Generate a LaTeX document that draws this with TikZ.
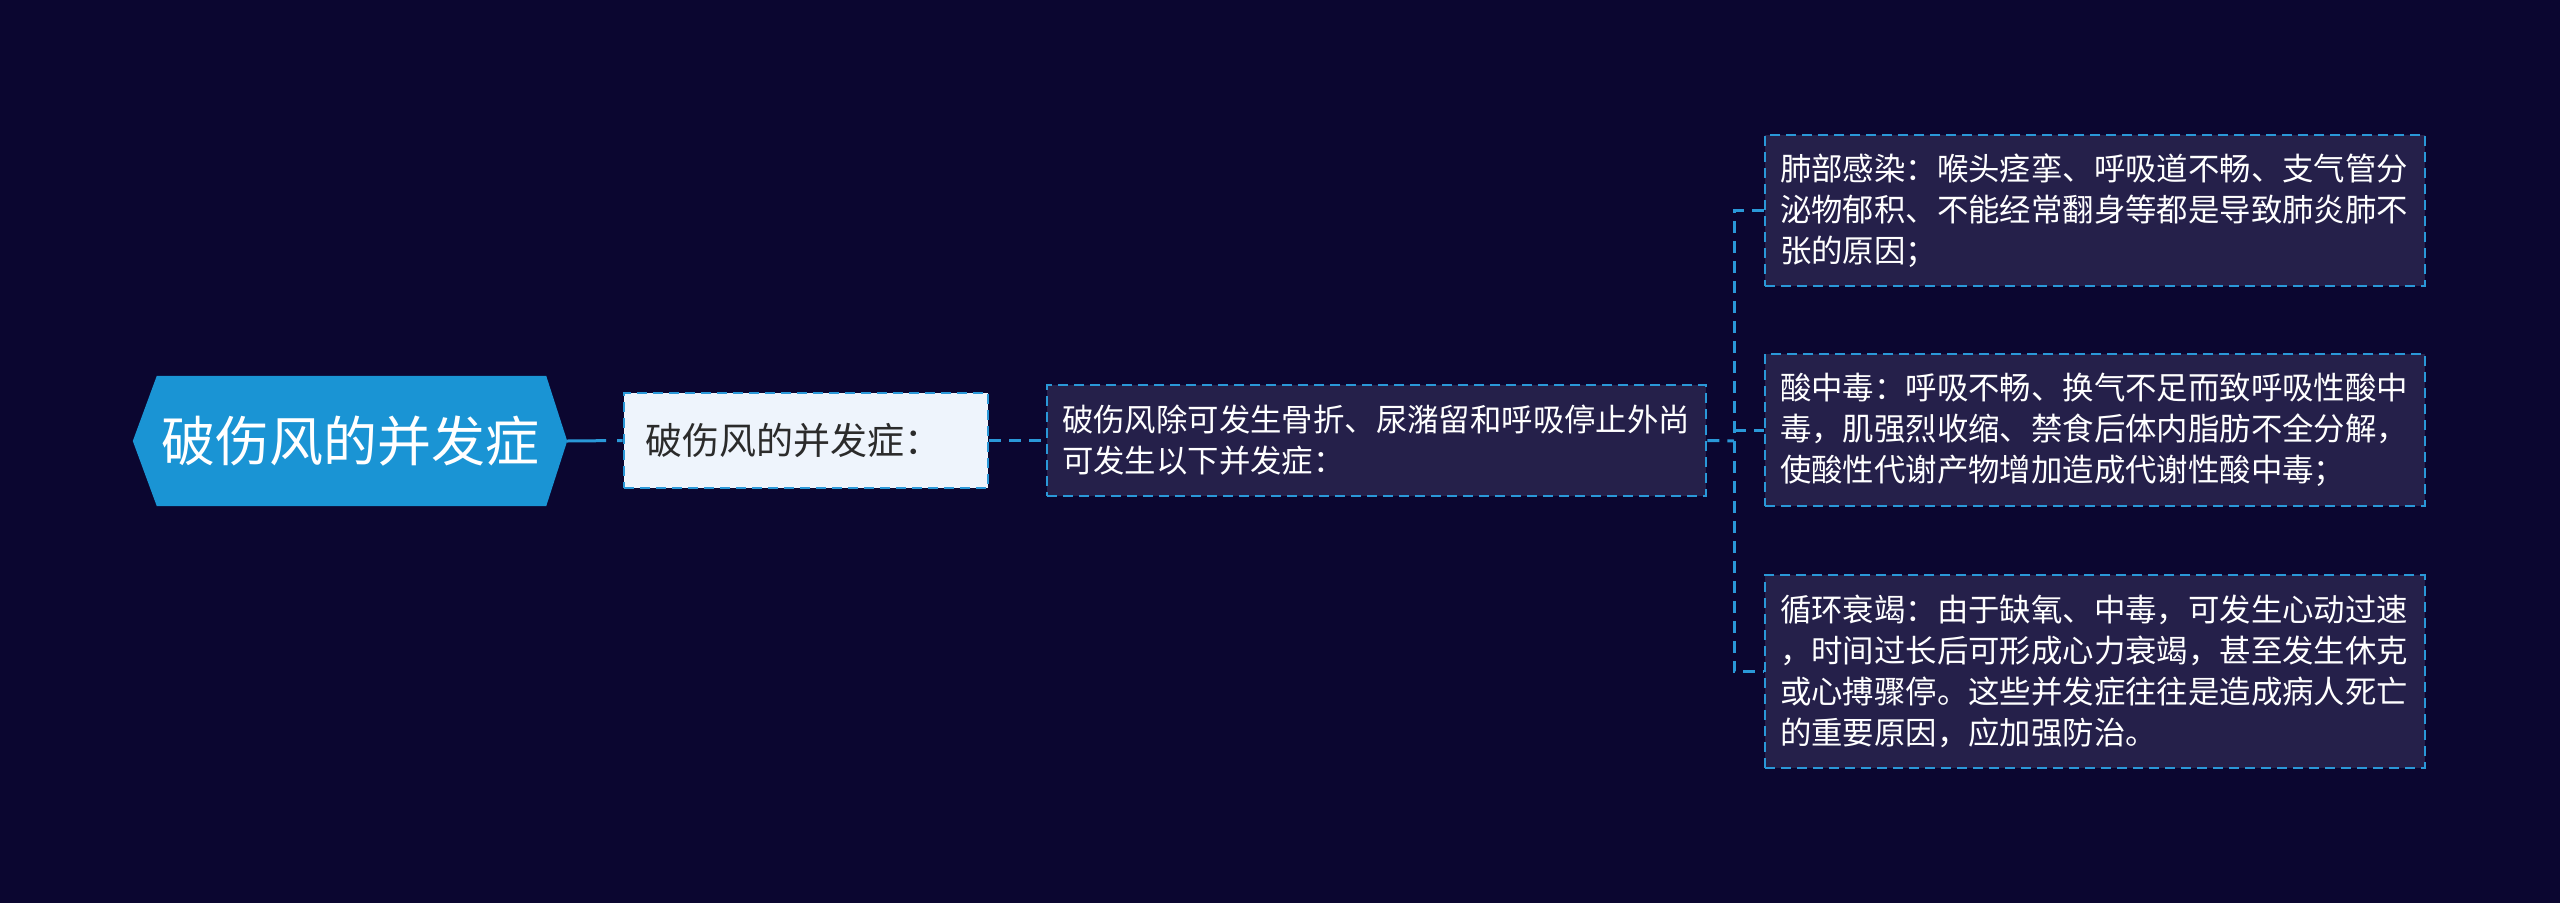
\documentclass[tikz,border=0pt]{standalone}
\usepackage{fontspec}
\newfontfamily\cjk{Noto Sans CJK SC}
\usetikzlibrary{backgrounds}
\definecolor{bg}{HTML}{0B0630}
\definecolor{boxfill}{HTML}{25204A}
\definecolor{lineblue}{HTML}{2A98D8}
\definecolor{rootfill}{HTML}{1A94D4}
\definecolor{subfill}{HTML}{EEF4FC}
\definecolor{subtext}{HTML}{2B2B2B}
\begin{document}
\begin{tikzpicture}[x=1pt,y=-1pt,
  dbox/.style={draw=lineblue, line width=2.6pt, dash pattern=on 10pt off 6pt,
    fill=boxfill, text=white, font=\cjk\fontsize{31.4}{41}\selectfont,
    align=left, inner xsep=15pt, inner ysep=0pt, text width=630pt},
  subbox/.style={draw=lineblue, line width=2.6pt, dash pattern=on 10pt off 6pt,
    fill=subfill, text=subtext, font=\cjk\fontsize{37}{44}\selectfont,
    align=left, inner xsep=21pt, inner ysep=0pt, text width=322pt},
  rootbox/.style={text=white, font=\cjk\fontsize{54}{62}\selectfont,
    inner sep=0pt, minimum width=434pt, minimum height=130pt},
  conn/.style={draw=lineblue, line width=3pt, dash pattern=on 12pt off 8pt}
]
\useasboundingbox (0,0) rectangle (2560,903);

% nodes
\node[rootbox] (root) at (350,441) {破伤风的并发症};
\node[subbox, minimum height=95pt] (sub) at (806,440.5) {破伤风的并发症：};
\node[dbox, text width=629pt, minimum height=111pt] (mid) at (1376.5,440.5)
  {破伤风除可发生骨折、尿潴留和呼吸停止外尚\\可发生以下并发症：};
\node[dbox, minimum height=151pt] (A) at (2095,210.5)
  {肺部感染：喉头痉挛、呼吸道不畅、支气管分\\泌物郁积、不能经常翻身等都是导致肺炎肺不\\张的原因；};
\node[dbox, minimum height=152pt] (B) at (2095,430)
  {酸中毒：呼吸不畅、换气不足而致呼吸性酸中\\毒，肌强烈收缩、禁食后体内脂肪不全分解，\\使酸性代谢产物增加造成代谢性酸中毒；};
\node[dbox, minimum height=193pt] (C) at (2095,671.5)
  {循环衰竭：由于缺氧、中毒，可发生心动过速\\，时间过长后可形成心力衰竭，甚至发生休克\\或心搏骤停。这些并发症往往是造成病人死亡\\的重要原因，应加强防治。};

\coordinate (bx) at (1734,441);

\begin{scope}[on background layer]
  \fill[bg] (0,0) rectangle (2560,903);
  \fill[rootfill] (root.west) -- ([xshift=24pt]root.north west) -- ([xshift=-21pt]root.north east)
    -- (root.east) -- ([xshift=-21pt]root.south east) -- ([xshift=24pt]root.south west) -- cycle;
\end{scope}

% connectors
\draw[conn, dash pattern=on 39pt off 11pt] (root.east) -- (sub.west);
\draw[conn] (sub.east) -- (mid.west);
\draw[conn] (mid.east) -- (bx);
\draw[conn] (A.west) -- (A.west -| bx) -- (C.west -| bx) -- (C.west);
\draw[conn] (B.west -| bx) -- (B.west);
\end{tikzpicture}
\end{document}
